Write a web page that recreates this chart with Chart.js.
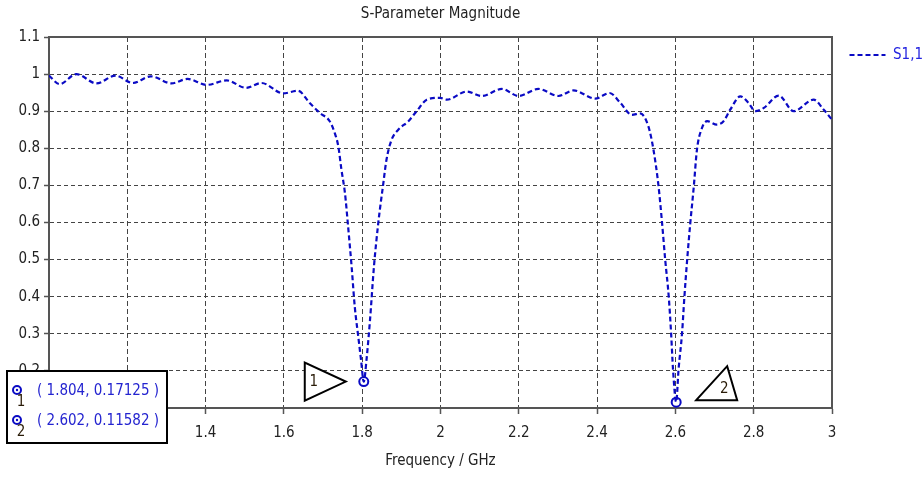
<!DOCTYPE html>
<html><head><meta charset="utf-8">
<script src="https://cdn.jsdelivr.net/npm/chart.js@4.4.1/dist/chart.umd.min.js"></script>
<style>html,body{margin:0;padding:0;background:#fff;}canvas{display:block;}</style>
</head><body>
<canvas id="c" width="922" height="477"></canvas>
<script>
const chartTitle = 'S-Parameter Magnitude';
const xAxisTitle = 'Frequency / GHz';
const seriesName = 'S1,1';
const xTickValues = [1, 1.2, 1.4, 1.6, 1.8, 2, 2.2, 2.4, 2.6, 2.8, 3];
const yTickValues = [0.1, 0.2, 0.3, 0.4, 0.5, 0.6, 0.7, 0.8, 0.9, 1, 1.1];
const frequencyGHz = [
  1.000, 1.027, 1.070, 1.121, 1.170, 1.214, 1.260, 1.313, 1.354, 1.403,
  1.454, 1.503, 1.543, 1.598, 1.636, 1.666, 1.692, 1.717, 1.730, 1.739,
  1.747, 1.756, 1.764, 1.773, 1.781, 1.790, 1.797, 1.804, 1.811, 1.820,
  1.830, 1.841, 1.854, 1.862, 1.875, 1.892, 1.918, 1.939, 1.965, 1.999,
  2.016, 2.067, 2.105, 2.157, 2.199, 2.250, 2.301, 2.340, 2.395, 2.432,
  2.459, 2.489, 2.510, 2.531, 2.544, 2.557, 2.566, 2.574, 2.583, 2.589,
  2.594, 2.602, 2.608, 2.617, 2.623, 2.630, 2.638, 2.647, 2.655, 2.668,
  2.681, 2.706, 2.723, 2.740, 2.766, 2.787, 2.804, 2.826, 2.864, 2.902,
  2.953, 2.979, 3.000
];
const s11Magnitude = [
  0.996, 0.973, 1.000, 0.975, 0.996, 0.976, 0.994, 0.975, 0.987, 0.971,
  0.983, 0.963, 0.976, 0.948, 0.955, 0.922, 0.895, 0.873, 0.841, 0.805,
  0.742, 0.679, 0.589, 0.481, 0.373, 0.292, 0.230, 0.171, 0.230, 0.338,
  0.481, 0.598, 0.706, 0.769, 0.823, 0.850, 0.873, 0.900, 0.931, 0.936,
  0.931, 0.953, 0.941, 0.960, 0.941, 0.960, 0.941, 0.956, 0.934, 0.949,
  0.923, 0.890, 0.894, 0.859, 0.796, 0.697, 0.598, 0.499, 0.400, 0.302,
  0.203, 0.116, 0.203, 0.302, 0.400, 0.499, 0.598, 0.697, 0.796, 0.855,
  0.873, 0.864, 0.873, 0.904, 0.940, 0.922, 0.900, 0.909, 0.942, 0.900,
  0.931, 0.904, 0.877
];
const markerIds = ['1', '2'];
const markerFreq = [1.804, 2.602];
const markerMag = [0.17125, 0.11582];
const markerLabels = ['( 1.804, 0.17125 )', '( 2.602, 0.11582 )'];

const FONT = "'DejaVu Sans Condensed', 'DejaVu Sans', sans-serif";
const BLUE = '#0a0ac4';
const AXIS = '#555';
const GRID = '#444';
const FS = 15;
const fmt = v => String(parseFloat(Number(v).toFixed(3)));

const annot = {
  id: 'annot',
  afterDatasetsDraw(chart) {
    const {ctx, scales: {x, y}} = chart;
    ctx.save();
    ctx.lineWidth = 2; ctx.strokeStyle = '#000'; ctx.fillStyle = '#fff'; ctx.lineJoin = 'miter';
    const p1 = {x: x.getPixelForValue(markerFreq[0]), y: y.getPixelForValue(markerMag[0])};
    ctx.beginPath(); ctx.moveTo(p1.x - 59, p1.y - 19); ctx.lineTo(p1.x - 59, p1.y + 19); ctx.lineTo(p1.x - 18, p1.y); ctx.closePath(); ctx.fill(); ctx.stroke();
    const p2 = {x: x.getPixelForValue(markerFreq[1]), y: y.getPixelForValue(markerMag[1])};
    ctx.beginPath(); ctx.moveTo(p2.x + 20, p2.y - 2); ctx.lineTo(p2.x + 51, p2.y - 36); ctx.lineTo(p2.x + 61, p2.y - 2); ctx.closePath(); ctx.fill(); ctx.stroke();
    ctx.fillStyle = '#2a1c08'; ctx.font = FS + 'px ' + FONT; ctx.textAlign = 'center'; ctx.textBaseline = 'middle';
    ctx.fillText(markerIds[0], p1.x - 50, p1.y + 1);
    ctx.fillText(markerIds[1], p2.x + 48, p2.y - 13);
    ctx.restore();
  },
  afterDraw(chart) {
    const ctx = chart.ctx;
    ctx.save();
    ctx.fillStyle = '#fff'; ctx.strokeStyle = '#000'; ctx.lineWidth = 2;
    ctx.fillRect(7, 371, 160, 72); ctx.strokeRect(7, 371, 160, 72);
    ctx.font = FS + 'px ' + FONT; ctx.textBaseline = 'middle';
    const rows = [390, 420];
    rows.forEach((ry, i) => {
      ctx.strokeStyle = BLUE; ctx.lineWidth = 2;
      ctx.beginPath(); ctx.arc(17, ry, 4, 0, Math.PI * 2); ctx.stroke();
      ctx.fillStyle = BLUE; ctx.beginPath(); ctx.arc(17, ry, 1.2, 0, Math.PI * 2); ctx.fill();
      ctx.fillStyle = '#2a1c08'; ctx.textAlign = 'center';
      ctx.fillText(markerIds[i], 21, ry + 12);
      ctx.fillStyle = '#2424d0'; ctx.textAlign = 'left';
      ctx.fillText(markerLabels[i], 37, ry + 1);
    });
    ctx.restore();
  }
};

const tickFont = {family: FONT, size: FS};
new Chart(document.getElementById('c'), {
  type: 'line',
  data: {
    datasets: [
      {
        label: seriesName,
        data: frequencyGHz.map((f, i) => ({x: f, y: s11Magnitude[i]})),
        borderColor: BLUE, backgroundColor: BLUE, borderWidth: 2.2, borderDash: [5, 3],
        pointRadius: 0, cubicInterpolationMode: 'monotone', fill: false
      },
      {
        label: 'markers',
        data: markerFreq.map((f, i) => ({x: f, y: markerMag[i]})),
        showLine: false, pointRadius: 4.5, pointBorderWidth: 2,
        pointBorderColor: BLUE, pointBackgroundColor: '#fff', borderColor: BLUE
      },
      {
        label: 'markerDots',
        data: markerFreq.map((f, i) => ({x: f, y: markerMag[i]})),
        showLine: false, pointRadius: 1.3, pointBorderWidth: 0,
        pointBackgroundColor: BLUE, borderColor: BLUE
      }
    ]
  },
  options: {
    responsive: false, animation: false, devicePixelRatio: 1,
    layout: {padding: 0},
    plugins: {
      title: {display: false},
      tooltip: {enabled: false},
      legend: {
        display: true, position: 'right', align: 'start', fullSize: false, maxWidth: 83,
        labels: {
          filter: item => item.datasetIndex === 0,
          generateLabels: chart => Chart.defaults.plugins.legend.labels.generateLabels(chart).map(it => {
            it.lineDash = [5, 3]; it.lineWidth = 2.2; it.strokeStyle = BLUE; return it;
          }),
          usePointStyle: true, pointStyle: 'line', pointStyleWidth: 36,
          color: '#2424e0', font: {family: FONT, size: FS}, padding: 10.5
        }
      }
    },
    scales: {
      x: {
        type: 'linear', position: 'bottom', min: 1, max: 3,
        afterBuildTicks: s => { s.ticks = xTickValues.map(v => ({value: v})); },
        afterFit: s => { s.height = 69; },
        ticks: {callback: v => fmt(v), color: '#222', font: tickFont, padding: 10.5, maxRotation: 0, autoSkip: false},
        grid: {color: GRID, lineWidth: 1, tickLength: 6, tickColor: AXIS, tickWidth: 1.5, tickBorderDash: [], borderDash: [5, 3]},
        border: {display: true, color: AXIS, width: 2, dash: [5, 3]},
        title: {display: true, text: xAxisTitle, color: '#222', font: {family: FONT, size: FS}, padding: {top: 0, bottom: 7}}
      },
      xTop: {
        type: 'linear', position: 'top', min: 1, max: 3,
        afterFit: s => { s.height = 37; },
        ticks: {display: false}, grid: {display: false},
        border: {display: true, color: AXIS, width: 2},
        title: {display: true, text: chartTitle, color: '#222', font: {family: FONT, size: FS}, padding: {top: 5.5, bottom: 0}}
      },
      y: {
        type: 'linear', position: 'left', min: 0.1, max: 1.1,
        afterBuildTicks: s => { s.ticks = yTickValues.map(v => ({value: v})); },
        afterFit: s => { s.width = 49; },
        ticks: {callback: v => fmt(v), color: '#222', font: tickFont, padding: 4, autoSkip: false},
        grid: {color: GRID, lineWidth: 1, tickLength: 5, tickColor: AXIS, tickWidth: 1.5, tickBorderDash: [], borderDash: [4, 3]},
        border: {display: true, color: AXIS, width: 2, dash: [4, 3]}
      },
      yRight: {
        type: 'linear', position: 'right', min: 0.1, max: 1.1,
        afterFit: s => { s.width = 7; },
        ticks: {display: false}, grid: {display: false},
        border: {display: true, color: AXIS, width: 2}
      }
    }
  },
  plugins: [annot]
});
</script>
</body></html>
